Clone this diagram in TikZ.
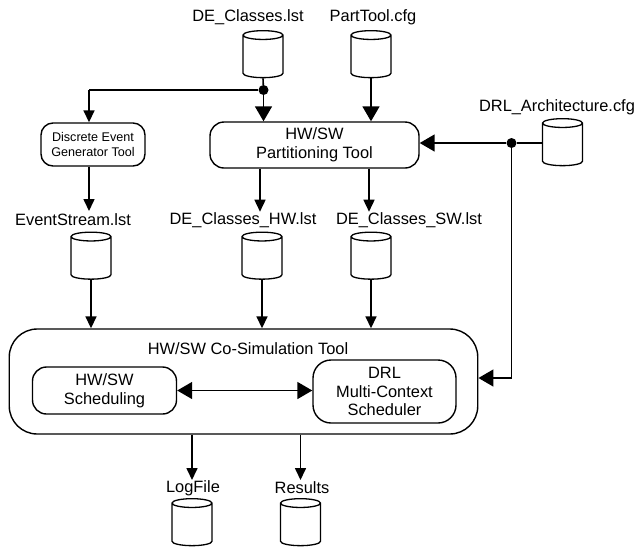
\documentclass[tikz,border=0pt]{standalone}
\usepackage{fontspec}
\setmainfont{Liberation Sans}
\usetikzlibrary{arrows.meta,shapes.geometric}

\tikzset{
  every node/.style={font=\fontsize{16.4}{18.5}\selectfont, align=center, inner sep=0pt},
  store/.style={cylinder, shape border rotate=90, draw=black, line width=1.3pt, aspect=1.1, inner sep=4pt,
                minimum width=40pt, minimum height=47pt},
  tool/.style={draw=black, line width=1.4pt, rectangle, rounded corners=#1, execute at begin node={\rule{0pt}{18pt}}},
  tool/.default=12pt,
  joint/.style={circle, fill=black, minimum size=10pt},
  flowline/.style={line width=1.6pt},
  bigflow/.style={flowline, -{Triangle[length=15pt,width=17pt]}},
  smallflow/.style={flowline, -{Triangle[length=12pt,width=11pt]}},
}

\begin{document}
\begin{tikzpicture}[x=1pt, y=-1pt]
  \useasboundingbox (0,0) rectangle (636,547);

  % Archivos de la fila superior
  \node (classesLabel) at (248,17) {DE\_Classes.lst};
  \node (partLabel) at (373,17) {PartTool.cfg};
  \node[store] (classes) at (263,58) {};
  \node[store] (part) at (371,58) {};

  \node (archLabel) at (557,107) {DRL\_Architecture.cfg};
  \node[store] (arch) at (562.5,146) {};

  % Herramientas centrales
  \node[tool, minimum width=104pt, minimum height=43pt, font=\fontsize{12.6}{15.5}\selectfont] (generator) at (93,144.5)
    {Discrete Event\\Generator Tool};
  \node[tool=14pt, minimum width=209pt, minimum height=46pt] (partition) at (314.5,145) {HW/SW\\Partitioning Tool};

  % Archivos intermedios
  \node (streamLabel) at (73,220) {EventStream.lst};
  \node (hwLabel) at (243,220) {DE\_Classes\_HW.lst};
  \node (swLabel) at (409,220) {DE\_Classes\_SW.lst};
  \node[store] (stream) at (91,259.5) {};
  \node[store] (hw) at (262,259.5) {};
  \node[store] (sw) at (371,259.5) {};

  % Co-simulación
  \node[tool=28pt, minimum width=468.5pt, minimum height=105pt] (cosim) at (243.5,381.5) {};
  \node (cosimLabel) at (248,349) {HW/SW Co-Simulation Tool};
  \node[tool=14pt, minimum width=144pt, minimum height=47pt] (sched) at (104.5,390.5) {HW/SW\\Scheduling};
  \node[tool=18pt, minimum width=143pt, minimum height=63pt] (drl) at (384.5,391.5) {DRL\\Multi-Context\\Scheduler};

  % Salidas
  \node (logLabel) at (193,488) {LogFile};
  \node (resultsLabel) at (302,488) {Results};
  \node[store] (logfile) at (192,526) {};
  \node[store] (results) at (300.5,526) {};

  % Uniones
  \node[joint] (classesJoint) at (263.5,90) {};
  \node[joint] (archJoint) at (511.5,143) {};
  \coordinate (genCorner) at (89,90);
  \coordinate (cosimCorner) at (511.5,378);
  \coordinate (archPort) at (543,143);

  % Conexiones de la parte superior
  \draw[flowline] (classes.bottom) -- (classesJoint);
  \draw[bigflow] (classesJoint) -- (classesJoint |- partition.north);
  \draw[flowline] (classesJoint) -- (genCorner);
  \draw[smallflow] (genCorner) -- (genCorner |- generator.north);
  \draw[bigflow] (part.bottom) -- (part.bottom |- partition.north);

  \draw[flowline] (archPort) -- (archJoint);
  \draw[bigflow] (archJoint) -- (archJoint -| partition.east);
  \draw[flowline] (archJoint) -- (cosimCorner);
  \draw[bigflow] (cosimCorner) -- (cosimCorner -| cosim.east);

  % Salidas de los generadores
  \draw[smallflow] (generator.south -| genCorner) -- (genCorner |- 0,211);
  \draw[smallflow] (partition.south -| hw.center) ++(-2,0) -- ++(0,43);
  \draw[smallflow] (partition.south -| sw.center) ++(-2,0) -- ++(0,43);

  % Entradas a la co-simulación
  \draw[smallflow] (stream.bottom) -- (stream.bottom |- cosim.north);
  \draw[smallflow] (hw.bottom) -- (hw.bottom |- cosim.north);
  \draw[smallflow] (sw.bottom) -- (sw.bottom |- cosim.north);

  \draw[flowline, {Triangle[length=15pt,width=17pt]}-{Triangle[length=15pt,width=17pt]}] (sched) -- (sched -| drl.west);

  \draw[smallflow] (cosim.south -| logfile.center) -- (logfile.center |- 0,480);
  \draw[smallflow] (cosim.south -| results.center) -- (results.center |- 0,480);
\end{tikzpicture}
\end{document}
